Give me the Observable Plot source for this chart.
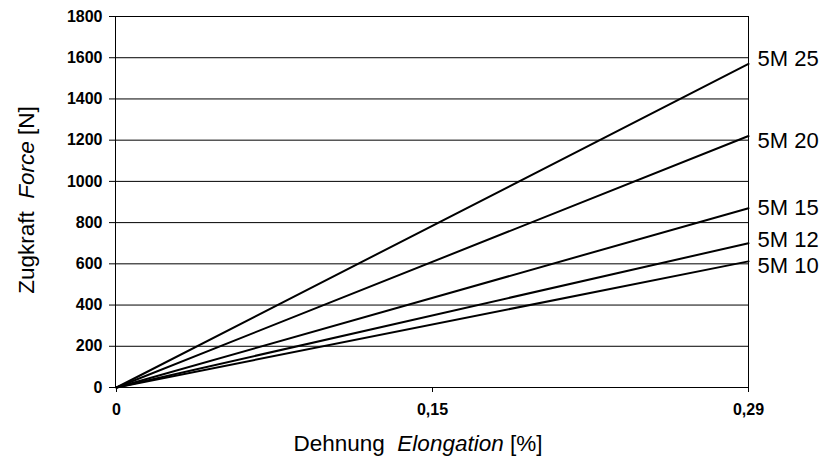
<!DOCTYPE html>
<html>
<head>
<meta charset="utf-8">
<script src="https://cdn.jsdelivr.net/npm/d3@7"></script>
<script src="https://cdn.jsdelivr.net/npm/@observablehq/plot@0.6"></script>
<style>
  html, body { margin: 0; padding: 0; background: #fff; }
  #chart { width: 838px; height: 457px; }
</style>
</head>
<body>
<div id="chart"></div>
<script>
// Categories of the elongation axis (Excel-style category axis)
const xCategories = ["0", "0,15", "0,29"];
// Belt types
const series = ["5M 25", "5M 20", "5M 15", "5M 12", "5M 10"];
// Force at start (0 %) and at end (0,29 %) for each belt
const forceAtStart = [0, 0, 0, 0, 0];
const forceAtEnd = [1570, 1220, 870, 700, 612];
// Y tick values
const yTicks = [0, 200, 400, 600, 800, 1000, 1200, 1400, 1600, 1800];

const rows = [];
series.forEach((s, i) => {
  rows.push({series: s, x: xCategories[0], y: forceAtStart[i]});
  rows.push({series: s, x: xCategories[2], y: forceAtEnd[i]});
});
const ends = rows.filter(d => d.x === xCategories[2]);

// label nudges (pixels) so neighbouring labels do not collide, as in the original
const labelNudge = {"5M 25": -5, "5M 20": 5, "5M 15": 0, "5M 12": -3, "5M 10": 5};

const font = "Liberation Sans, Arial, sans-serif";

const labelMarks = series.map(s =>
  Plot.text(ends.filter(d => d.series === s), {
    x: "x", y: "y", text: "series", textAnchor: "start", dx: 9, dy: labelNudge[s],
    fontSize: 22, fontWeight: "normal", fontFamily: font, fill: "#000"
  })
);

const plot = Plot.plot({
  width: 838,
  height: 457,
  marginLeft: 115,
  marginRight: 90,
  marginTop: 16,
  marginBottom: 70,
  style: {fontFamily: font, fontSize: "16px", color: "#000", background: "#fff", overflow: "visible"},
  x: {type: "point", domain: xCategories, padding: 0},
  y: {domain: [0, 1800]},
  marks: [
    Plot.ruleY(yTicks, {stroke: "#000", strokeWidth: 1}),
    Plot.frame({stroke: "#000", strokeWidth: 1}),
    Plot.axisY({ticks: yTicks, tickSize: 6, tickPadding: 7, label: null, tickFormat: d => String(d),
      fontSize: 16, fontWeight: "bold", fontFamily: font, fill: "#000"}),
    Plot.axisX({tickSize: 5, tickPadding: 11, label: null,
      fontSize: 16, fontWeight: "bold", fontFamily: font, fill: "#000"}),
    Plot.line(rows, {x: "x", y: "y", z: "series", stroke: "#000", strokeWidth: 2}),
    ...labelMarks
  ]
});

const svg = d3.select(plot);
svg.selectAll("g[aria-label='y-axis tick label'], g[aria-label='x-axis tick label']")
  .attr("font-size", 16).attr("font-weight", "bold").attr("font-family", font)
  .selectAll("text").style("font-size", "16px").style("font-weight", "bold");

const xt = svg.append("text")
  .attr("x", 418).attr("y", 451)
  .attr("text-anchor", "middle")
  .style("font-family", font).style("font-size", "22.5px").style("font-weight", "normal")
  .attr("fill", "#000");
xt.append("tspan").text("Dehnung\u00a0\u00a0");
xt.append("tspan").style("font-style", "italic").text("Elongation");
xt.append("tspan").text(" [%]");

const yt = svg.append("text")
  .attr("transform", "translate(34,200) rotate(-90)")
  .attr("text-anchor", "middle")
  .style("font-family", font).style("font-size", "22.5px").style("font-weight", "normal")
  .attr("fill", "#000");
yt.append("tspan").text("Zugkraft\u00a0\u00a0");
yt.append("tspan").style("font-style", "italic").text("Force");
yt.append("tspan").text(" [N]");

document.getElementById("chart").appendChild(plot);
</script>
</body>
</html>
